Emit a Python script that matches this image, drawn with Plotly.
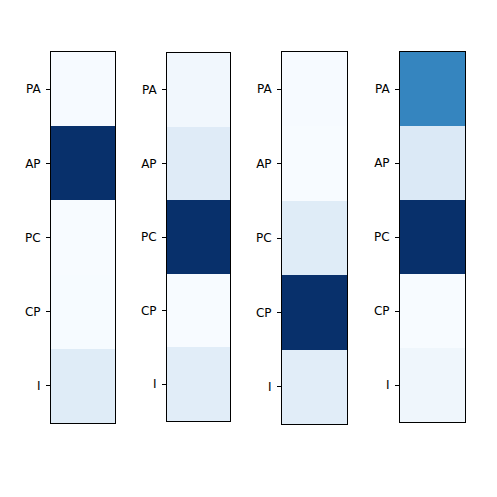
import plotly.graph_objects as go
from plotly.subplots import make_subplots

kategorien = ["PA", "AP", "PC", "CP", "I"]

spalte_1 = [0.005, 1.0, 0.0, 0.003, 0.12]
spalte_2 = [0.04, 0.13, 1.0, 0.01, 0.12]
spalte_3 = [0.005, 0.0, 0.12, 1.0, 0.11]
spalte_4 = [0.68, 0.16, 1.0, 0.02, 0.06]

spalten = [spalte_1, spalte_2, spalte_3, spalte_4]

# matplotlib "Blues"
blues = [
    [0.0, "#f7fbff"], [0.125, "#deebf7"], [0.25, "#c6dbef"],
    [0.375, "#9ecae1"], [0.5, "#6baed6"], [0.625, "#4292c6"],
    [0.75, "#2171b5"], [0.875, "#08519c"], [1.0, "#08306b"],
]

# pixel boxes of the four panels (left, right, top, bottom), page coords
boxen = [(51, 115, 52, 423), (167, 230, 53, 421), (282, 347, 52, 424), (400, 465, 52, 422)]
W = H = 497
OFF = 8  # body margin of the html page

fig = make_subplots(rows=1, cols=4)

for i, werte in enumerate(spalten):
    fig.add_trace(go.Heatmap(
        z=[[v] for v in werte],
        x=[0],
        y=kategorien,
        colorscale=blues,
        zmin=min(werte), zmax=max(werte),
        showscale=False,
        hoverinfo="skip",
    ), row=1, col=i + 1)
    l, r, t, b = [v - OFF for v in boxen[i]]
    n = "" if i == 0 else str(i + 1)
    fig.layout["xaxis" + n].update(
        domain=[l / W, r / W], range=[-0.5, 0.5],
        showticklabels=False, ticks="", showgrid=False, zeroline=False,
        showline=True, linecolor="black", linewidth=1, mirror=True,
    )
    fig.layout["yaxis" + n].update(
        domain=[1 - b / H, 1 - t / H], autorange="reversed",
        ticks="outside", ticklen=4, tickcolor="black", tickwidth=1,
        ticklabelstandoff=3,
        showgrid=False, zeroline=False,
        showline=True, linecolor="black", linewidth=1, mirror=True,
        tickfont=dict(family="DejaVu Sans", size=12, color="black"),
    )

fig.update_layout(
    width=W, height=H,
    margin=dict(l=0, r=0, t=0, b=0),
    plot_bgcolor="white", paper_bgcolor="white",
)

fig.write_html("out.html")
